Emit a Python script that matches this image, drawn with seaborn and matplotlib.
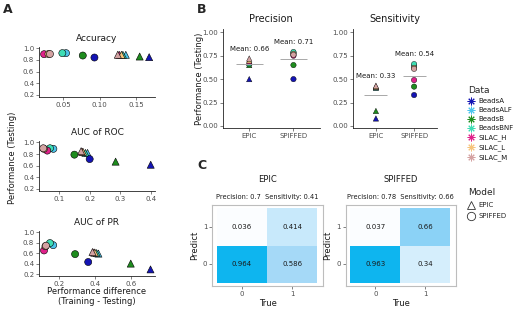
import matplotlib
matplotlib.use("Agg")
import matplotlib.pyplot as plt
from matplotlib.colors import LinearSegmentedColormap
from matplotlib.lines import Line2D
import numpy as np
import pandas as pd
import seaborn as sns

# --- data ---
datasets = ["BeadsA", "BeadsALF", "BeadsB", "BeadsBNF", "SILAC_H", "SILAC_L", "SILAC_M"]
data_colors = ["#1414B4", "#4CC4EC", "#1E8C1E", "#3EDDB4", "#E0218A", "#F6C47C", "#D4A2A2"]
models = ["EPIC", "SPIFFED"]

# panel A: (performance difference, testing performance)
acc_diff_epic = [0.168, 0.136, 0.155, 0.132, 0.127, 0.130, 0.125]
acc_perf_epic = [0.846, 0.886, 0.857, 0.886, 0.886, 0.886, 0.888]
acc_diff_spif = [0.093, 0.054, 0.077, 0.049, 0.024, 0.030, 0.032]
acc_perf_spif = [0.840, 0.915, 0.874, 0.915, 0.897, 0.900, 0.900]

roc_diff_epic = [0.400, 0.193, 0.285, 0.186, 0.175, 0.178, 0.172]
roc_perf_epic = [0.617, 0.820, 0.670, 0.820, 0.840, 0.840, 0.850]
roc_diff_spif = [0.200, 0.081, 0.150, 0.070, 0.061, 0.050, 0.048]
roc_perf_spif = [0.714, 0.890, 0.790, 0.900, 0.860, 0.890, 0.900]

pr_diff_epic = [0.710, 0.420, 0.600, 0.410, 0.395, 0.400, 0.387]
pr_perf_epic = [0.290, 0.590, 0.400, 0.600, 0.610, 0.610, 0.620]
pr_diff_spif = [0.363, 0.168, 0.290, 0.150, 0.117, 0.125, 0.128]
pr_perf_spif = [0.430, 0.750, 0.580, 0.790, 0.650, 0.730, 0.740]

# panel B: testing performance per model
prec_epic = [0.50, 0.68, 0.65, 0.67, 0.69, 0.70, 0.72]
prec_spif = [0.50, 0.78, 0.65, 0.79, 0.75, 0.77, 0.76]
sens_epic = [0.08, 0.41, 0.16, 0.41, 0.42, 0.42, 0.43]
sens_spif = [0.33, 0.64, 0.42, 0.66, 0.49, 0.62, 0.61]

# panel C: confusion matrices (rows: Predict 1, Predict 0; cols: True 0, True 1)
conf_epic = [[0.036, 0.414], [0.964, 0.586]]
conf_spif = [[0.037, 0.66], [0.963, 0.34]]
conf_prec = [0.7, 0.78]
conf_sens = [0.41, 0.66]

sns.set_style("ticks")
plt.rcParams["font.family"] = ["DejaVu Sans"]
palette = dict(zip(datasets, data_colors))
markers = {"EPIC": "^", "SPIFFED": "o"}
TICK = "#4D4D4D"

W, H = 520, 309
fig = plt.figure(figsize=(W / 100, H / 100), dpi=100)


def px_axes(left, top, right, bottom):
    return fig.add_axes([left / W, 1 - bottom / H, (right - left) / W, (bottom - top) / H])


def long_df(ex, ey, sx, sy):
    return pd.DataFrame({
        "Data": datasets * 2,
        "Model": ["EPIC"] * 7 + ["SPIFFED"] * 7,
        "x": ex + sx,
        "y": ey + sy,
    })


def style_axes(ax):
    sns.despine(ax=ax)
    for sp in ["left", "bottom"]:
        ax.spines[sp].set_color("#222222")
        ax.spines[sp].set_linewidth(0.6)
    ax.tick_params(labelsize=5, colors=TICK, length=2, width=0.5, pad=1.5)
    ax.set_xlabel("")
    ax.set_ylabel("")


# --- panel A ---
panel_a = [
    ("Accuracy", acc_diff_epic, acc_perf_epic, acc_diff_spif, acc_perf_spif,
     (46.7, 96.7), (0.017, 0.176), (0.17, 1.025), [0.05, 0.10, 0.15], ["0.05", "0.10", "0.15"]),
    ("AUC of ROC", roc_diff_epic, roc_perf_epic, roc_diff_spif, roc_perf_spif,
     (141, 190.7), (0.034, 0.414), (0.17, 1.025), [0.1, 0.2, 0.3, 0.4], ["0.1", "0.2", "0.3", "0.4"]),
    ("AUC of PR", pr_diff_epic, pr_perf_epic, pr_diff_spif, pr_perf_spif,
     (230.7, 275.7), (0.089, 0.735), (0.17, 1.025), [0.2, 0.4, 0.6], ["0.2", "0.4", "0.6"]),
]
for title, ex, ey, sx, sy, (top, bot), xl, yl, xt, xtl in panel_a:
    ax = px_axes(39, top, 155, bot)
    df = long_df(ex, ey, sx, sy)
    sns.scatterplot(data=df, x="x", y="y", hue="Data", style="Model", palette=palette,
                    hue_order=datasets, markers=markers, s=26, edgecolor="black",
                    linewidth=0.4, legend=False, ax=ax)
    ax.set_xlim(*xl)
    ax.set_ylim(*yl)
    ax.set_xticks(xt)
    ax.set_xticklabels(xtl)
    ax.set_yticks([0.2, 0.4, 0.6, 0.8, 1.0])
    ax.set_yticklabels(["0.2", "0.4", "0.6", "0.8", "1.0"])
    style_axes(ax)
    ax.set_title(title, fontsize=6.5, pad=4, color="#1a1a1a")

fig.text(13 / W, 1 - 158 / H, "Performance (Testing)", rotation=90, ha="center", va="center",
         fontsize=6, color="#1a1a1a")
fig.text(97 / W, 1 - 291 / H, "Performance difference", ha="center", va="center",
         fontsize=6, color="#1a1a1a")
fig.text(97 / W, 1 - 301 / H, "(Training - Testing)", ha="center", va="center",
         fontsize=6, color="#1a1a1a")

# --- panel B ---
panel_b = [
    ("Precision", prec_epic, prec_spif, 222.7, 320),
    ("Sensitivity", sens_epic, sens_spif, 353, 437),
]
for title, ev, sv, left, right in panel_b:
    ax = px_axes(left, 29.3, right, 128.3)
    df = pd.DataFrame({
        "Data": datasets * 2,
        "Model": ["EPIC"] * 7 + ["SPIFFED"] * 7,
        "pos": [0] * 7 + [1] * 7,
        "value": ev + sv,
    })
    sns.scatterplot(data=df, x="pos", y="value", hue="Data", style="Model", palette=palette,
                    hue_order=datasets, markers=markers, s=15, edgecolor="black",
                    linewidth=0.3, legend=False, ax=ax)
    for i, vals in enumerate([ev, sv]):
        m = np.mean(vals)
        ax.hlines(m, i - 0.3, i + 0.3, color="#A8A8A8", lw=0.7, zorder=1)
        ax.text(i, max(vals) + 0.105, f"Mean: {m:.2f}", ha="center", va="center",
                fontsize=5, color="#1a1a1a")
    ax.set_xlim(-0.6, 1.6)
    ax.set_ylim(-0.025, 1.032)
    ax.set_xticks([0, 1])
    ax.set_xticklabels(models)
    ax.set_yticks([0, 0.25, 0.5, 0.75, 1.0])
    ax.set_yticklabels(["0.00", "0.25", "0.50", "0.75", "1.00"])
    style_axes(ax)
    ax.set_title(title, fontsize=7, pad=5, color="#1a1a1a")

fig.text(199 / W, 1 - 79 / H, "Performance (Testing)", rotation=90, ha="center", va="center",
         fontsize=6, color="#1a1a1a")

# --- panel C ---
cmap = LinearSegmentedColormap.from_list(
    "conf", [(0, "#FFFFFF"), (0.35, "#D4EEFC"), (0.6, "#A3D8F7"), (1, "#00B2EE")])
for k, (mat, left, right) in enumerate([(conf_epic, 212.3, 322.7), (conf_spif, 345.7, 456)]):
    ax = px_axes(left, 205, right, 285.7)
    sns.heatmap(np.array(mat), ax=ax, cmap=cmap, vmin=0, vmax=1, cbar=False, annot=True,
                fmt="g", annot_kws={"fontsize": 5, "color": "#1a1a1a"},
                xticklabels=["0", "1"], yticklabels=["1", "0"])
    ax.set_xlim(-0.09, 2.11)
    ax.set_ylim(2.07, -0.09)
    for sp in ax.spines.values():
        sp.set_visible(True)
        sp.set_color("#BDBDBD")
        sp.set_linewidth(0.8)
    ax.tick_params(labelsize=5, colors=TICK, length=2, width=0.5, pad=1.5)
    ax.tick_params(axis="y", labelrotation=0)
    ax.set_xlabel("True", fontsize=6, color="#1a1a1a", labelpad=2)
    ax.set_ylabel("Predict", fontsize=6, color="#1a1a1a", labelpad=3)
    cx = (left + right) / 2 / W
    fig.text(cx, 1 - 180 / H, models[k], ha="center", va="center", fontsize=6, color="#1a1a1a")
    fig.text(cx, 1 - 197 / H, f"Precision: {conf_prec[k]}  Sensitivity: {conf_sens[k]}",
             ha="center", va="center", fontsize=4.8, color="#1a1a1a")

# --- legends ---
data_handles = [Line2D([], [], ls="", marker=(8, 2, 0), color=c, markersize=5.5, mew=0.7)
                for c in data_colors]
leg1 = fig.legend(data_handles, datasets, title="Data", loc="upper left",
                  bbox_to_anchor=(468 / W, 1 - 86 / H), frameon=False, fontsize=5,
                  title_fontsize=6.5, handlelength=1.0, handletextpad=0.5, labelspacing=0.45,
                  borderaxespad=0, borderpad=0)
leg1._legend_box.align = "left"
for t in leg1.get_texts():
    t.set_color("#1a1a1a")

model_handles = [Line2D([], [], ls="", marker=markers[m], mfc="none", mec="#333333",
                        markersize=6, mew=0.6) for m in models]
leg2 = fig.legend(model_handles, models, title="Model", loc="upper left",
                  bbox_to_anchor=(468 / W, 1 - 188 / H), frameon=False, fontsize=5,
                  title_fontsize=6.5, handlelength=1.0, handletextpad=0.5, labelspacing=0.75,
                  borderaxespad=0, borderpad=0)
leg2._legend_box.align = "left"

# --- panel letters ---
for letter, x, y in [("A", 3, 3), ("B", 197, 3), ("C", 197, 159)]:
    fig.text(x / W, 1 - y / H, letter, ha="left", va="top", fontsize=9, fontweight="bold")

fig.savefig("out.png", dpi=100)
